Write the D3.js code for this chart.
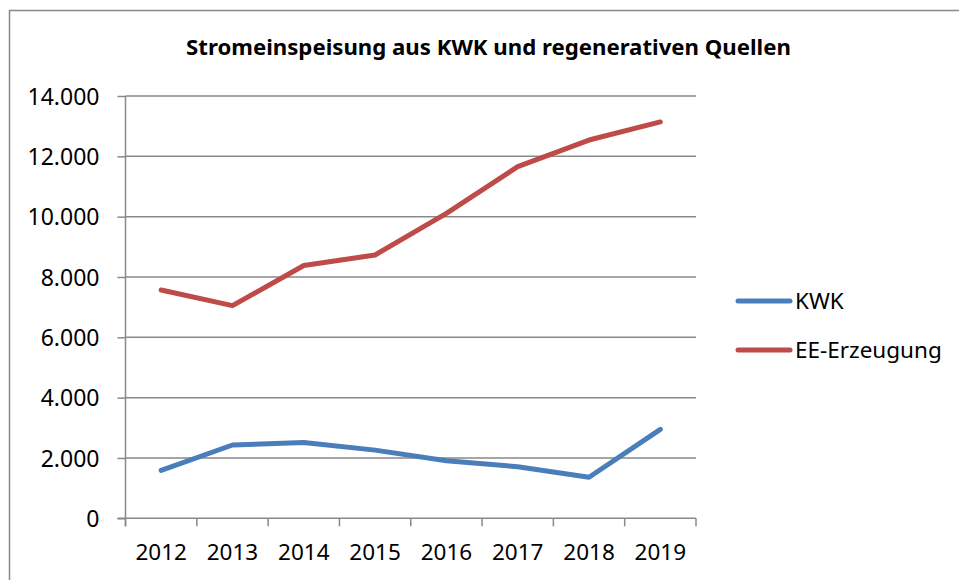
<!DOCTYPE html>
<html>
<head>
<meta charset="utf-8">
<script src="https://cdn.jsdelivr.net/npm/d3@7"></script>
<style>
  body { margin: 0; background: #fff; }
  text { font-family: "Noto Sans", "Open Sans", sans-serif; fill: #000; }
</style>
</head>
<body>
<script>
"use strict";

// Data

const years = ["2012", "2013", "2014", "2015", "2016", "2017", "2018", "2019"];
const kwk = [1590, 2430, 2510, 2260, 1910, 1710, 1360, 2950];
const ee = [7570, 7050, 8380, 8730, 10110, 11660, 12540, 13140];
const yTicks = [0, 2000, 4000, 6000, 8000, 10000, 12000, 14000];

const series = [
    { name: "KWK", values: kwk, color: "#4a7ebb" },
    { name: "EE-Erzeugung", values: ee, color: "#be4b48" }
];

// Size parameters

const width = 959;
const height = 580;
const plot = { left: 125.5, right: 696, top: 96, bottom: 518.3 };
const gridColor = "#898989";

const svg = d3.select("body")
    .append("svg")
    .attr("width", width)
    .attr("height", height);

// Outer frame (cropped on right and bottom)
svg.append("path")
    .attr("d", `M9.5,${height + 2} L9.5,10.5 L${width + 2},10.5`)
    .attr("fill", "none")
    .attr("stroke", gridColor)
    .attr("stroke-width", 1.5);

// Title
svg.append("text")
    .attr("x", 488.5)
    .attr("y", 55)
    .attr("text-anchor", "middle")
    .attr("font-weight", "bold")
    .attr("font-size", 22.2)
    .text("Stromeinspeisung aus KWK und regenerativen Quellen");

// Scales

const x = d3.scaleBand()
    .domain(years)
    .range([plot.left, plot.right]);

const y = d3.scaleLinear()
    .domain([0, 14000])
    .range([plot.bottom, plot.top]);

// Gridlines
svg.append("g")
    .selectAll("line")
    .data(yTicks.filter(d => d > 0))
    .enter()
    .append("line")
    .attr("x1", plot.left)
    .attr("x2", plot.right)
    .attr("y1", d => y(d))
    .attr("y2", d => y(d))
    .attr("stroke", gridColor)
    .attr("stroke-width", 1.5);

// Y axis
const yAxis = svg.append("g")
    .attr("transform", `translate(${plot.left},0)`)
    .call(d3.axisLeft(y)
        .tickValues(yTicks)
        .tickSize(8)
        .tickPadding(18)
        .tickFormat(d => d === 0 ? "0" : d3.format(",")(d).replace(/,/g, ".")));

yAxis.select(".domain").remove();
yAxis.append("line")
    .attr("x1", 0).attr("x2", 0)
    .attr("y1", plot.top).attr("y2", plot.bottom + 8)
    .attr("stroke", gridColor)
    .attr("stroke-width", 1.5);
yAxis.selectAll(".tick line").attr("stroke", gridColor).attr("stroke-width", 1.5);
yAxis.selectAll(".tick text")
    .attr("font-size", 23)
    .attr("font-family", "'Noto Sans', sans-serif")
    .attr("fill", "#000")
    .attr("dy", "0.36em");

// X axis
const xAxis = svg.append("g")
    .attr("transform", `translate(0,${plot.bottom})`);

xAxis.append("line")
    .attr("x1", plot.left - 8).attr("x2", plot.right)
    .attr("y1", 0).attr("y2", 0)
    .attr("stroke", gridColor)
    .attr("stroke-width", 1.5);

xAxis.selectAll(".xtick")
    .data(years.concat(["end"]))
    .enter()
    .append("line")
    .classed("xtick", true)
    .attr("x1", (d, i) => i < years.length ? x(d) : plot.right)
    .attr("x2", (d, i) => i < years.length ? x(d) : plot.right)
    .attr("y1", 0)
    .attr("y2", 8)
    .attr("stroke", gridColor)
    .attr("stroke-width", 1.5);

xAxis.selectAll(".xlabel")
    .data(years)
    .enter()
    .append("text")
    .classed("xlabel", true)
    .attr("x", d => x(d) + x.bandwidth() / 2)
    .attr("y", 42)
    .attr("text-anchor", "middle")
    .attr("font-size", 22.5)
    .text(d => d);

// Lines
const line = d3.line()
    .x((d, i) => x(years[i]) + x.bandwidth() / 2)
    .y(d => y(d));

svg.selectAll(".series")
    .data(series)
    .enter()
    .append("path")
    .classed("series", true)
    .attr("d", d => line(d.values))
    .attr("fill", "none")
    .attr("stroke", d => d.color)
    .attr("stroke-width", 5)
    .attr("stroke-linecap", "round")
    .attr("stroke-linejoin", "round");

// Legend
const legend = svg.selectAll(".legend")
    .data(series)
    .enter()
    .append("g")
    .classed("legend", true)
    .attr("transform", (d, i) => `translate(738,${301 + i * 49})`);

legend.append("line")
    .attr("x1", 0).attr("x2", 52)
    .attr("y1", 0).attr("y2", 0)
    .attr("stroke", d => d.color)
    .attr("stroke-width", 5)
    .attr("stroke-linecap", "round");

legend.append("text")
    .attr("x", 57)
    .attr("y", 8)
    .attr("font-size", 22.5)
    .text(d => d.name);
</script>
</body>
</html>
